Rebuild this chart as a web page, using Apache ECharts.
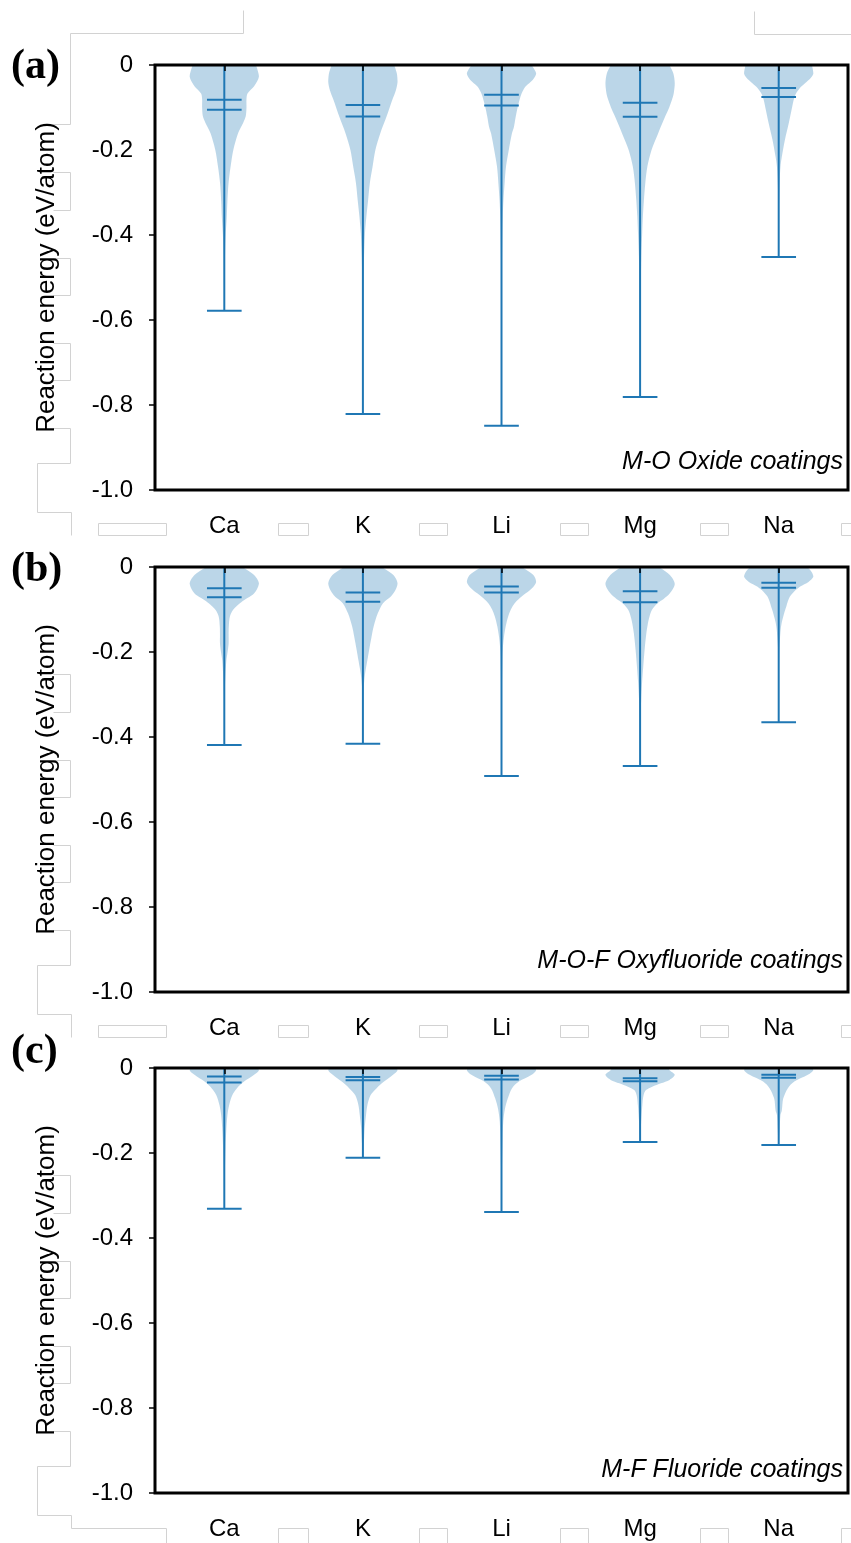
<!DOCTYPE html>
<html>
<head>
<meta charset="utf-8">
<script src="https://cdn.jsdelivr.net/npm/echarts@6/dist/echarts.min.js"></script>
<style>
  html, body { margin: 0; padding: 0; background: #ffffff; }
  #chart { width: 851px; height: 1543px; }
</style>
</head>
<body>
<div id="chart"></div>
<script>
// ---- data -------------------------------------------------------------
const categories = ['Ca', 'K', 'Li', 'Mg', 'Na'];
const yTickLabels = ['0', '-0.2', '-0.4', '-0.6', '-0.8', '-1.0'];
const yAxisTitle = 'Reaction energy (eV/atom)';
const panelLetters = ['(a)', '(b)', '(c)'];
const panelTitles = ['M-O Oxide coatings', 'M-O-F Oxyfluoride coatings', 'M-F Fluoride coatings'];

// (a) M-O oxide coatings
const oxideMax = [0, 0, 0, 0, 0];
const oxideMin = [-0.578, -0.821, -0.849, -0.781, -0.452];
const oxideMedian = [-0.082, -0.094, -0.070, -0.089, -0.054];
const oxideMean = [-0.105, -0.121, -0.095, -0.122, -0.075];
// kernel density profiles: [reaction energy, density / peak density]
const oxideDensity = [
  [[0, 0.9], [-0.004, 0.93], [-0.027, 1], [-0.05, 0.86], [-0.067, 0.67], [-0.08, 0.64], [-0.1, 0.64], [-0.12, 0.62], [-0.135, 0.55], [-0.16, 0.4], [-0.2, 0.26], [-0.24, 0.18], [-0.28, 0.12], [-0.32, 0.09], [-0.36, 0.07], [-0.4, 0.04], [-0.45, 0.02], [-0.52, 0.01], [-0.578, 0]],
  [[0, 0.9], [-0.004, 0.92], [-0.02, 0.98], [-0.04, 1], [-0.06, 0.95], [-0.082, 0.85], [-0.122, 0.68], [-0.161, 0.5], [-0.2, 0.36], [-0.239, 0.28], [-0.278, 0.2], [-0.318, 0.15], [-0.357, 0.1], [-0.396, 0.06], [-0.46, 0.03], [-0.55, 0.015], [-0.65, 0.007], [-0.821, 0]],
  [[0, 0.86], [-0.004, 0.9], [-0.02, 1], [-0.035, 0.9], [-0.05, 0.7], [-0.067, 0.58], [-0.098, 0.47], [-0.122, 0.41], [-0.145, 0.36], [-0.161, 0.3], [-0.2, 0.21], [-0.239, 0.13], [-0.278, 0.09], [-0.32, 0.055], [-0.36, 0.035], [-0.42, 0.02], [-0.5, 0.01], [-0.6, 0.005], [-0.849, 0]],
  [[0, 0.84], [-0.004, 0.87], [-0.02, 0.96], [-0.043, 1], [-0.067, 0.97], [-0.082, 0.92], [-0.1, 0.84], [-0.122, 0.72], [-0.161, 0.52], [-0.2, 0.33], [-0.239, 0.21], [-0.278, 0.15], [-0.318, 0.11], [-0.357, 0.08], [-0.396, 0.06], [-0.45, 0.035], [-0.52, 0.02], [-0.6, 0.01], [-0.781, 0]],
  [[0, 0.95], [-0.004, 0.97], [-0.02, 1], [-0.03, 0.93], [-0.043, 0.76], [-0.055, 0.6], [-0.067, 0.5], [-0.08, 0.44], [-0.098, 0.39], [-0.137, 0.29], [-0.176, 0.18], [-0.216, 0.09], [-0.24, 0.05], [-0.28, 0.025], [-0.33, 0.01], [-0.452, 0]]
];

// (b) M-O-F oxyfluoride coatings
const oxyfluorideMax = [0, 0, 0, 0, 0];
const oxyfluorideMin = [-0.419, -0.416, -0.492, -0.468, -0.365];
const oxyfluorideMedian = [-0.050, -0.060, -0.046, -0.057, -0.037];
const oxyfluorideMean = [-0.071, -0.082, -0.060, -0.083, -0.049];
const oxyfluorideDensity = [
  [[0, 0.52], [-0.003, 0.58], [-0.019, 0.86], [-0.038, 1], [-0.054, 0.93], [-0.065, 0.82], [-0.075, 0.62], [-0.085, 0.45], [-0.101, 0.25], [-0.117, 0.16], [-0.14, 0.13], [-0.16, 0.125], [-0.18, 0.125], [-0.203, 0.09], [-0.219, 0.06], [-0.258, 0.03], [-0.3, 0.012], [-0.419, 0]],
  [[0, 0.55], [-0.003, 0.6], [-0.019, 0.88], [-0.038, 1], [-0.054, 0.94], [-0.07, 0.8], [-0.085, 0.58], [-0.109, 0.43], [-0.14, 0.31], [-0.164, 0.25], [-0.195, 0.18], [-0.219, 0.13], [-0.242, 0.08], [-0.266, 0.04], [-0.3, 0.015], [-0.416, 0]],
  [[0, 0.58], [-0.003, 0.64], [-0.019, 0.92], [-0.035, 1], [-0.05, 0.88], [-0.062, 0.7], [-0.075, 0.5], [-0.085, 0.38], [-0.1, 0.27], [-0.117, 0.19], [-0.14, 0.12], [-0.165, 0.07], [-0.19, 0.04], [-0.22, 0.025], [-0.3, 0.01], [-0.492, 0]],
  [[0, 0.55], [-0.003, 0.6], [-0.019, 0.86], [-0.04, 1], [-0.062, 0.86], [-0.075, 0.68], [-0.085, 0.5], [-0.101, 0.34], [-0.117, 0.27], [-0.135, 0.22], [-0.156, 0.18], [-0.195, 0.13], [-0.235, 0.09], [-0.274, 0.055], [-0.313, 0.03], [-0.36, 0.012], [-0.468, 0]],
  [[0, 0.8], [-0.003, 0.86], [-0.012, 0.95], [-0.023, 1], [-0.035, 0.86], [-0.046, 0.62], [-0.058, 0.44], [-0.07, 0.32], [-0.082, 0.26], [-0.093, 0.22], [-0.105, 0.17], [-0.117, 0.13], [-0.13, 0.09], [-0.145, 0.06], [-0.164, 0.04], [-0.2, 0.015], [-0.365, 0]]
];

// (c) M-F fluoride coatings
const fluorideMax = [0, 0, 0, 0, 0];
const fluorideMin = [-0.331, -0.211, -0.339, -0.174, -0.181];
const fluorideMedian = [-0.020, -0.021, -0.018, -0.024, -0.016];
const fluorideMean = [-0.034, -0.029, -0.027, -0.031, -0.023];
const fluorideDensity = [
  [[0, 0.93], [-0.005, 1], [-0.016, 0.86], [-0.032, 0.57], [-0.048, 0.36], [-0.064, 0.23], [-0.087, 0.14], [-0.111, 0.09], [-0.142, 0.06], [-0.188, 0.035], [-0.25, 0.015], [-0.331, 0]],
  [[0, 0.95], [-0.005, 1], [-0.016, 0.87], [-0.032, 0.61], [-0.048, 0.39], [-0.064, 0.22], [-0.087, 0.13], [-0.111, 0.09], [-0.142, 0.05], [-0.173, 0.03], [-0.211, 0]],
  [[0, 0.95], [-0.005, 1], [-0.016, 0.87], [-0.032, 0.5], [-0.048, 0.3], [-0.072, 0.18], [-0.096, 0.1], [-0.127, 0.05], [-0.174, 0.03], [-0.25, 0.01], [-0.339, 0]],
  [[0, 0.8], [-0.005, 0.85], [-0.016, 1], [-0.028, 0.85], [-0.036, 0.6], [-0.044, 0.35], [-0.052, 0.17], [-0.064, 0.1], [-0.087, 0.065], [-0.127, 0.03], [-0.174, 0]],
  [[0, 0.95], [-0.005, 1], [-0.016, 0.84], [-0.032, 0.45], [-0.048, 0.26], [-0.072, 0.13], [-0.1, 0.09], [-0.111, 0.05], [-0.142, 0.03], [-0.181, 0]]
];

// ---- styling / layout --------------------------------------------------
const SANS = "'Liberation Sans', Arial, sans-serif";
const SERIF = "'Liberation Serif', 'Times New Roman', serif";
const LINE = '#1f77b4';
const BODY = 'rgba(31,119,180,0.3)';
const GRID_LEFT = 155, GRID_WIDTH = 693, GRID_HEIGHT = 425;
const GRID_TOPS = [65, 567, 1068];

const panels = [
  { max: oxideMax, min: oxideMin, median: oxideMedian, mean: oxideMean, density: oxideDensity },
  { max: oxyfluorideMax, min: oxyfluorideMin, median: oxyfluorideMedian, mean: oxyfluorideMean, density: oxyfluorideDensity },
  { max: fluorideMax, min: fluorideMin, median: fluorideMedian, mean: fluorideMean, density: fluorideDensity }
];

// violin body + extrema, median and mean bars, in category-axis units
function violinRenderer(panel) {
  return function (params, api) {
    const i = api.value(0);
    const band = api.size([1, 0])[0];
    const halfBody = band * 0.25;   // violin width = half a category
    const halfBar = band * 0.125;   // bars span a quarter of a category
    const x = api.coord([i, 0])[0];
    const yOf = v => api.coord([i, v])[1];
    const prof = panel.density[i];
    const left = prof.map(p => [x - p[1] * halfBody, yOf(p[0])]);
    const right = prof.slice(0, -1).reverse().map(p => [x + p[1] * halfBody, yOf(p[0])]);
    const pts = left.concat(right);
    const xs = pts.map(p => p[0]), ys = pts.map(p => p[1]);
    const bounds = [[Math.min(...xs), Math.min(...ys)], [Math.max(...xs), Math.max(...ys)]];
    const bar = v => ({
      type: 'line',
      shape: { x1: x - halfBar, y1: yOf(v), x2: x + halfBar, y2: yOf(v) },
      style: { stroke: LINE, lineWidth: 2 }
    });
    return {
      type: 'group',
      children: [
        { type: 'polygon', shape: { points: pts, smooth: 0.3, smoothConstraint: bounds }, style: { fill: BODY } },
        { type: 'line', shape: { x1: x, y1: yOf(panel.max[i]), x2: x, y2: yOf(panel.min[i]) }, style: { stroke: LINE, lineWidth: 2 } },
        bar(panel.max[i]),
        bar(panel.min[i]),
        bar(panel.median[i]),
        bar(panel.mean[i])
      ]
    };
  };
}

const grid = [], xAxis = [], yAxis = [], series = [];
panels.forEach((panel, k) => {
  grid.push({
    left: GRID_LEFT, top: GRID_TOPS[k], width: GRID_WIDTH, height: GRID_HEIGHT,
    show: true, borderColor: '#000', borderWidth: 3, backgroundColor: 'transparent', z: 10
  });
  xAxis.push({
    type: 'category', gridIndex: k, data: categories, z: 10,
    axisLine: { show: false },
    axisTick: { show: true, alignWithLabel: true, length: 6, lineStyle: { color: '#000', width: 1.5 } },
    axisLabel: { color: '#000', fontSize: 24, fontFamily: SANS, margin: 24 },
    splitLine: { show: false }
  });
  yAxis.push({
    type: 'value', gridIndex: k, min: -1, max: 0, interval: 0.2, z: 10,
    name: yAxisTitle, nameLocation: 'middle', nameGap: 95,
    nameTextStyle: { color: '#000', fontSize: 26, fontFamily: SANS },
    axisLine: { show: false },
    axisTick: { show: true, length: 6, lineStyle: { color: '#000', width: 1.5 } },
    axisLabel: {
      color: '#000', fontSize: 24, fontFamily: SANS, margin: 22,
      formatter: v => yTickLabels[Math.round(-v / 0.2)]
    },
    splitLine: { show: false }
  });
  series.push({
    type: 'custom', xAxisIndex: k, yAxisIndex: k, clip: true,
    renderItem: violinRenderer(panel),
    encode: { x: 0, y: 1 },
    data: categories.map((c, i) => [i, panel.min[i], panel.max[i]])
  });
});

// panel letters and coating captions
const letterY = [67, 570, 1052];
const captionY = [462, 961, 1470];
const graphic = [];
panels.forEach((p, k) => {
  graphic.push({
    type: 'text', x: 11, y: letterY[k],
    style: { text: panelLetters[k], font: 'bold 42px ' + SERIF, fill: '#000', textVerticalAlign: 'middle', verticalAlign: 'middle' }
  });
  graphic.push({
    type: 'text', x: 843, y: captionY[k],
    style: { text: panelTitles[k], font: 'italic 25px ' + SANS, fill: '#000', textAlign: 'right', align: 'right', textVerticalAlign: 'middle', verticalAlign: 'middle' }
  });
});

// faint outlines of pasted boxes around the figure (same template per panel)
const faint = { stroke: '#d2d2d2', lineWidth: 1, fill: null };
const outlines = [
  [[243, 10], [243, 33], [70, 33], [70, 124], [53, 124]],
  [[754, 11], [754, 34], [851, 34]]
];
const panelOutline = [
  [[53, 172], [70, 172], [70, 210], [53, 210]],
  [[53, 258], [70, 258], [70, 295], [53, 295]],
  [[53, 343], [70, 343], [70, 380], [53, 380]],
  [[53, 428], [70, 428], [70, 463], [37, 463], [37, 512], [71, 512]]
];
const rowBoxes = [[98, 166], [278, 308], [419, 447], [560, 588], [700, 728], [841, 860]];
GRID_TOPS.forEach((top, k) => {
  const dy = top - GRID_TOPS[0];
  panelOutline.forEach(seg => outlines.push(seg.map(p => [p[0], p[1] + dy])));
  const y = 523 + dy;
  if (k < GRID_TOPS.length - 1) {
    outlines.push([[71, 512 + dy], [71, 535 + dy]]);
    rowBoxes.forEach(b => outlines.push([[b[0], y], [b[1], y], [b[1], y + 12], [b[0], y + 12], [b[0], y]]));
  } else {
    // last row runs off the bottom edge
    outlines.push([[71, 512 + dy], [71, y + 2], [166, y + 2], [166, 1543]]);
    rowBoxes.slice(1).forEach(b => outlines.push([[b[0], 1543], [b[0], y + 2], [b[1], y + 2], [b[1], 1543]]));
  }
});
outlines.forEach(pts => graphic.push({
  type: 'polyline', silent: true, z: 0,
  shape: { points: pts.map(p => [p[0] + 0.5, p[1] + 0.5]) },
  style: faint
}));

const chart = echarts.init(document.getElementById('chart'), null, { renderer: 'canvas' });
chart.setOption({
  animation: false,
  backgroundColor: '#ffffff',
  grid, xAxis, yAxis, series, graphic
});
</script>
</body>
</html>
